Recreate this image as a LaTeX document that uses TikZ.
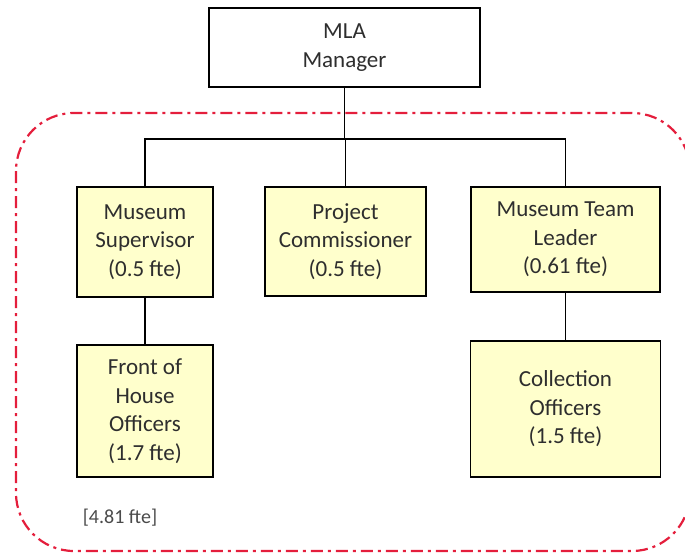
\documentclass[tikz,border=0pt]{standalone}
\usepackage{fontspec}
\setmainfont{Carlito}
\definecolor{boxfill}{HTML}{FFFFCC}
\definecolor{inktext}{HTML}{2E2E2E}
\definecolor{notegrey}{HTML}{4A4A4A}
\definecolor{teamred}{HTML}{E41E3C}
\begin{document}
\begin{tikzpicture}[x=1pt,y=-1pt,
  orgbox/.style={draw=black, line width=1.7pt, fill=boxfill, align=center,
    text=inktext, font=\fontsize{23}{28.5}\selectfont, inner sep=0pt},
  link/.style={draw=black, line width=1.7pt},
  teamline/.style={draw=teamred, line width=2.2pt,
    dash pattern=on 12pt off 5pt on 3pt off 5pt, rounded corners=58pt}]
\useasboundingbox (0,0) rectangle (685,554);
\clip (0,0) rectangle (685,554);

% team boundary
\draw[teamline] (16,113) rectangle (690,551);

% manager
\node[orgbox, fill=white, minimum width=271pt, minimum height=79pt] (mla)
  at (344.5,47.5) {MLA\\Manager};

% first level
\node[orgbox, minimum width=136pt, minimum height=110pt] (sup)
  at (145,242) {Museum\\Supervisor\\(0.5 fte)};
\node[orgbox, minimum width=161pt, minimum height=109pt] (pc)
  at (345.5,241.5) {Project\\Commissioner\\(0.5 fte)};
\node[orgbox, minimum width=189pt, minimum height=105pt] (tl)
  at (565.5,239.5) {Museum Team\\Leader\\(0.61 fte)};

% second level
\node[orgbox, minimum width=136pt, minimum height=132pt] (foh)
  at (145,411) {Front of\\House\\Officers\\(1.7 fte)};
\node[orgbox, minimum width=190pt, minimum height=136pt] (col)
  at (565.5,409) {Collection\\Officers\\(1.5 fte)};

% total
\node[text=notegrey, font=\fontsize{20}{24}\selectfont, inner sep=0pt] (total)
  at (120,518) {[4.81 fte]};

% reporting lines
\coordinate (bus) at (0,139);
\draw[link] (mla.south) -- (mla.south |- bus);
\draw[link] (sup.north) -- (sup.north |- bus) -- (tl.north |- bus) -- (tl.north);
\draw[link] (pc.north) -- (pc.north |- bus);
\draw[link] (sup.south) -- (foh.north);
\draw[link] (tl.south) -- (col.north);
\end{tikzpicture}
\end{document}
